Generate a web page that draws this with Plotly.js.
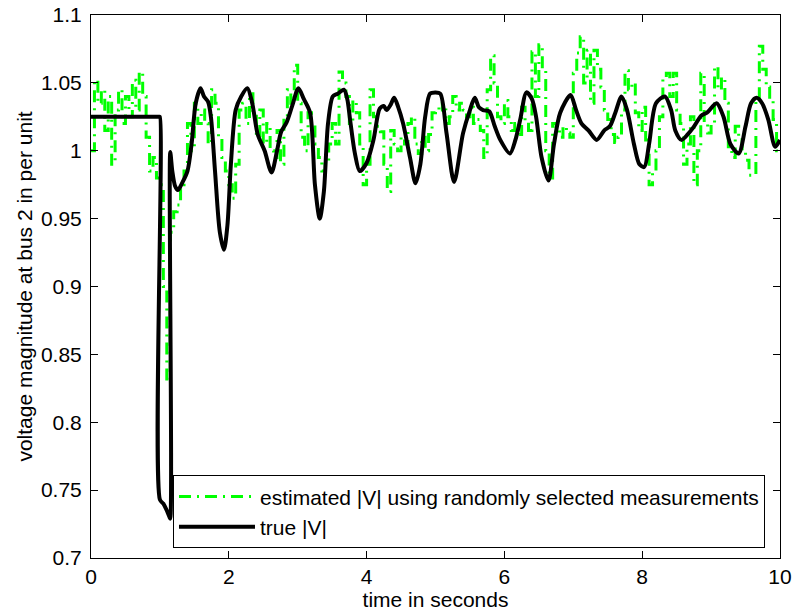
<!DOCTYPE html>
<html>
<head>
<meta charset="utf-8">
<script src="https://cdn.plot.ly/plotly-3.0.1.min.js"></script>
<style>html,body{margin:0;padding:0;background:#fff;}#chart{width:794px;height:615px;}</style>
</head>
<body>
<div id="chart"></div>
<script>
// estimated |V| sampled every 0.05 s (zero-order hold), t = 0 .. 10
const estStep = 0.05;
const estValues = [
  1.000, 1.052, 1.035, 1.045, 1.015, 1.040, 0.990, 1.030, 1.045, 1.020,
  1.040, 1.025, 1.052, 1.030, 1.058, 1.040, 1.010, 0.985, 0.995, 0.980,
  0.975, 0.900, 0.830, 0.940, 0.955, 0.960, 0.975, 0.985, 1.020, 1.000,
  1.035, 1.020, 1.030, 1.020, 1.005, 1.045, 1.035, 1.010, 0.995, 0.985,
  0.975, 0.965, 0.990, 1.030, 1.035, 1.020, 1.042, 1.028, 1.010, 1.030,
  1.005, 1.020, 1.000, 0.995, 1.015, 0.990, 1.025, 1.045, 1.035, 1.063,
  1.035, 1.010, 1.000, 1.028, 1.020, 1.005, 0.995, 0.985, 0.990, 1.005,
  1.020, 1.005, 1.058, 1.050, 1.040, 1.020, 1.037, 1.028, 1.005, 0.975,
  0.990, 1.045, 1.025, 1.018, 1.014, 0.990, 0.970, 1.015, 1.005, 1.000,
  1.010, 1.005, 1.020, 1.025, 1.005, 0.998, 1.010, 1.000, 1.012, 1.028,
  1.030, 1.035, 1.030, 1.020, 1.025, 1.040, 1.030, 1.035, 1.030, 1.025,
  1.032, 1.020, 1.023, 1.015, 0.995, 1.045, 1.070, 1.050, 1.025, 1.020,
  1.037, 1.025, 1.015, 1.020, 1.012, 1.032, 1.022, 1.015, 1.073, 1.040,
  1.078, 1.060, 1.000, 0.980, 1.020, 1.015, 1.010, 1.018, 1.013, 1.010,
  1.057, 1.072, 1.084, 1.050, 1.074, 1.035, 1.074, 1.060, 1.047, 1.030,
  1.023, 1.012, 1.006, 1.010, 1.030, 1.059, 1.045, 1.050, 1.028, 1.015,
  1.032, 1.008, 0.975, 0.985, 1.000, 1.025, 1.054, 1.057, 1.040, 1.057,
  1.030, 1.020, 0.990, 1.005, 1.025, 0.975, 1.000, 1.057, 1.020, 1.013,
  1.020, 1.062, 1.045, 1.054, 1.035, 1.003, 0.995, 1.018, 1.010, 1.000,
  0.993, 0.982, 0.982, 1.037, 1.077, 1.060, 1.047, 1.037, 1.023, 1.000,
  1.000
];
const estTime = estValues.map((_, i) => +(i * estStep).toFixed(2));

// true |V|
const trueTime = [
  0, 0.5, 0.99, 1.0, 1.0, 1.05, 1.10, 1.14, 1.15, 1.15, 1.18, 1.22, 1.26, 1.32, 1.40, 1.46, 1.52, 1.59,
  1.64, 1.70, 1.74, 1.80, 1.87, 1.93, 1.98, 2.03, 2.10, 2.18, 2.27, 2.34, 2.42, 2.52, 2.62, 2.70,
  2.76, 2.84, 2.92, 3.01, 3.09, 3.18, 3.25, 3.32, 3.38, 3.44, 3.51, 3.58, 3.67, 3.72, 3.76, 3.83,
  3.90, 4.00, 4.10, 4.19, 4.25, 4.29, 4.35, 4.40, 4.46, 4.53, 4.63, 4.71, 4.78, 4.85, 4.92, 5.00,
  5.07, 5.16, 5.27, 5.40, 5.50, 5.57, 5.63, 5.69, 5.78, 5.86, 5.94, 6.08, 6.16, 6.23, 6.32, 6.40,
  6.46, 6.54, 6.64, 6.72, 6.81, 6.96, 7.04, 7.12, 7.22, 7.34, 7.45, 7.53, 7.61, 7.70, 7.78, 7.88,
  7.96, 8.03, 8.10, 8.20, 8.33, 8.42, 8.48, 8.57, 8.66, 8.74, 8.86, 8.94, 9.08, 9.18, 9.28, 9.40,
  9.50, 9.58, 9.66, 9.74, 9.83, 9.93, 10.0
];
const trueValues = [
  1.025, 1.025, 1.025, 1.025, 0.743, 0.740, 0.735, 0.730, 0.729, 0.999, 0.985, 0.974, 0.971, 0.976, 0.985, 1.005, 1.035, 1.046,
  1.040, 1.036, 1.025, 0.985, 0.940, 0.927, 0.945, 0.990, 1.030, 1.040, 1.046, 1.035, 1.012, 1.000, 0.984, 1.000,
  1.014, 1.021, 1.033, 1.046, 1.038, 1.028, 0.975, 0.950, 0.970, 1.020, 1.040, 1.042, 1.045, 1.038, 1.023, 0.998,
  0.985, 0.991, 1.008, 1.031, 1.033, 1.030, 1.034, 1.039, 1.032, 1.020, 0.995, 0.976, 0.990, 1.025, 1.042, 1.043,
  1.042, 1.013, 0.977, 1.013, 1.030, 1.039, 1.032, 1.030, 1.029, 1.018, 1.008, 0.998, 1.008, 1.023, 1.043, 1.038,
  1.025, 0.995, 0.978, 1.005, 1.028, 1.041, 1.030, 1.020, 1.015, 1.008, 1.015, 1.018, 1.028, 1.040, 1.030, 1.005,
  0.990, 0.988, 1.005, 1.035, 1.040, 1.030, 1.015, 1.008, 1.012, 1.017, 1.026, 1.028, 1.035, 1.025, 1.005, 0.998,
  1.018, 1.035, 1.039, 1.035, 1.023, 1.003, 1.008
];

const xTickVals = [0, 2, 4, 6, 8, 10];
const xTickText = ["0", "2", "4", "6", "8", "10"];
const yTickVals = [0.7, 0.75, 0.8, 0.85, 0.9, 0.95, 1, 1.05, 1.1];
const yTickText = ["0.7", "0.75", "0.8", "0.85", "0.9", "0.95", "1", "1.05", "1.1"];

const seriesNames = ["estimated |V| using randomly selected measurements", "true |V|"];

const FONT = "Liberation Sans, Arial, Helvetica, sans-serif";
const FS = 21;

const traces = [
  {
    x: estTime, y: estValues, type: "scatter", mode: "lines", name: seriesNames[0],
    line: {color: "#00ff00", width: 3, shape: "hv", dash: "12px,6px,2px,6px"}
  },
  {
    x: trueTime, y: trueValues, type: "scatter", mode: "lines", name: seriesNames[1],
    line: {color: "#000000", width: 4, shape: "spline", smoothing: 0.8}
  }
];

const axisCommon = {
  showline: true, mirror: "ticks", linecolor: "#000", linewidth: 1,
  ticks: "inside", ticklen: 7, tickwidth: 1, tickcolor: "#000",
  showgrid: false, zeroline: false,
  tickfont: {family: FONT, size: FS, color: "#000"}
};

const layout = {
  width: 794, height: 615,
  margin: {l: 91, r: 14, t: 15, b: 57, pad: 0},
  paper_bgcolor: "#fff", plot_bgcolor: "#fff",
  font: {family: FONT, size: FS, color: "#000"},
  showlegend: true,
  xaxis: Object.assign({}, axisCommon, {
    range: [0, 10], tickmode: "array", tickvals: xTickVals, ticktext: xTickText,
    title: {text: "time in seconds", font: {family: FONT, size: FS, color: "#000"}, standoff: 2}
  }),
  yaxis: Object.assign({}, axisCommon, {
    range: [0.7, 1.1], tickmode: "array", tickvals: yTickVals, ticktext: yTickText,
    ticklabelstandoff: 4,
    title: {text: "voltage magnitude at bus 2 in per unit", font: {family: FONT, size: FS, color: "#000"}, standoff: 2}
  }),
  legend: {
    x: 0.119, y: 0.018, xanchor: "left", yanchor: "bottom",
    bgcolor: "#fff", bordercolor: "#000", borderwidth: 1,
    font: {family: FONT, size: FS, color: "#000"},
    itemwidth: 76, tracegroupgap: 0
  }
};

Plotly.newPlot("chart", traces, layout, {staticPlot: true, displayModeBar: false});
</script>
</body>
</html>
